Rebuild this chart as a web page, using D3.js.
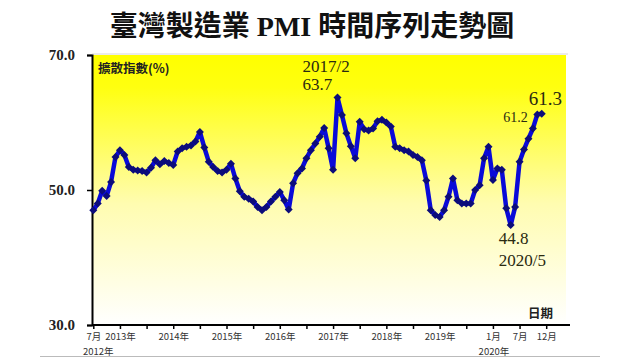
<!DOCTYPE html>
<html>
<head>
<meta charset="utf-8">
<script src="https://cdn.jsdelivr.net/npm/d3@7"></script>
<style>
  html, body { margin: 0; padding: 0; background: #ffffff; }
  svg { display: block; }
</style>
</head>
<body>
<svg id="chart" width="640" height="360"></svg>
<script>
// ---- data ----
const title = "臺灣製造業 PMI 時間序列走勢圖";
const startYear = 2012, startMonth = 7; // first category: 2012/7
const pmiValues = [
  // 2012 Jul-Dec
  47.0, 48.0, 49.9, 49.1, 51.2, 54.9,
  // 2013
  55.9, 55.2, 53.4, 53.0, 52.9, 52.8, 52.6, 53.3, 54.4, 53.8, 54.3, 54.0,
  // 2014
  53.7, 55.7, 56.2, 56.4, 56.6, 57.2, 58.6, 56.3, 54.2, 53.4, 52.8, 52.6,
  // 2015
  53.0, 53.9, 51.7, 49.8, 49.0, 48.7, 48.3, 47.5, 47.0, 47.5, 48.3, 49.0,
  // 2016
  49.7, 48.5, 47.1, 51.0, 52.5, 53.2, 54.7, 55.9, 56.9, 57.9, 59.2, 56.2,
  // 2017
  53.0, 63.7, 61.1, 58.4, 56.5, 54.7, 60.1, 59.0, 58.8, 59.1, 60.2, 60.4,
  // 2018
  60.0, 59.4, 56.4, 56.2, 55.9, 55.7, 55.2, 54.9, 54.4, 51.4, 47.0, 46.3,
  // 2019
  46.0, 47.0, 49.0, 51.7, 48.5, 48.0, 48.0, 48.0, 50.0, 50.7, 54.7, 56.4,
  // 2020
  51.5, 53.2, 53.0, 47.3, 44.8, 47.5, 54.2, 56.0, 57.6, 59.1, 61.2, 61.3
];
const categories = pmiValues.map((_, i) => {
  const m = startMonth - 1 + i;
  return (startYear + Math.floor(m / 12)) + "/" + (m % 12 + 1);
});
const yTicks = [30, 50, 70];
const xTickIdx = [0, 6, 12, 18, 24, 30, 36, 42, 48, 54, 60, 66, 72, 78, 84, 90, 96, 102];
const xTickLabels = {0: "7月", 6: "2013年", 18: "2014年", 30: "2015年", 42: "2016年",
  54: "2017年", 66: "2018年", 78: "2019年", 90: "1月", 96: "7月", 102: "12月"};
const xYearLabels = [{idx: 0, text: "2012年"}, {idx: 90, text: "2020年"}];
const annotations = [
  {cat: "2017/2", lines: ["2017/2", "63.7"]},
  {cat: "2020/5", lines: ["44.8", "2020/5"]},
  {cat: "2020/11", lines: ["61.2"]},
  {cat: "2020/12", lines: ["61.3"]}
];
const yTitle = "擴散指數(%)";
const xTitle = "日期";

// ---- layout ----
const svg = d3.select("#chart");
const plot = {left: 92, right: 566, top: 55, bottom: 325};
const x = d3.scaleLinear().domain([0, 102]).range([93.3, 546.2]);
const y = d3.scaleLinear().domain([30, 70]).range([plot.bottom, plot.top]);

const defs = svg.append("defs");
const grad = defs.append("linearGradient").attr("id", "bg").attr("x1", 0).attr("y1", 0).attr("x2", 0).attr("y2", 1);
grad.append("stop").attr("offset", "0%").attr("stop-color", "#ffff00");
grad.append("stop").attr("offset", "12%").attr("stop-color", "#ffff10");
grad.append("stop").attr("offset", "55%").attr("stop-color", "#fffcb0");
grad.append("stop").attr("offset", "100%").attr("stop-color", "#ffffff");

svg.append("rect")
  .attr("x", plot.left).attr("y", plot.top)
  .attr("width", plot.right - plot.left).attr("height", plot.bottom - plot.top)
  .attr("fill", "url(#bg)");

// faint frame lines
svg.append("line").attr("x1", plot.left).attr("x2", plot.right + 2)
  .attr("y1", plot.top - 1).attr("y2", plot.top - 1)
  .attr("stroke", "#d8d8d8").attr("stroke-width", 1);
svg.append("line").attr("x1", 40).attr("x2", 600)
  .attr("y1", 356.5).attr("y2", 356.5)
  .attr("stroke", "#bbbbbb").attr("stroke-width", 1);

// title
svg.append("text")
  .attr("x", 312).attr("y", 36)
  .attr("text-anchor", "middle")
  .attr("font-family", "'Liberation Serif', 'Noto Sans CJK TC', serif")
  .attr("font-weight", "bold")
  .attr("font-size", 28)
  .attr("fill", "#111")
  .text(title);

// y axis
const yAxis = d3.axisLeft(y).tickValues(yTicks).tickFormat(d3.format(".1f")).tickSize(5).tickPadding(12);
const gy = svg.append("g").attr("transform", `translate(${plot.left},0)`).call(yAxis);
gy.select(".domain").attr("stroke", "#000").attr("stroke-width", 2);
gy.selectAll(".tick line").attr("stroke", "#000").attr("stroke-width", 1.5);
gy.selectAll(".tick text")
  .attr("font-family", "'Liberation Serif', serif")
  .attr("font-weight", "bold").attr("font-size", 15).attr("fill", "#222");

// x axis
const xAxis = d3.axisBottom(x).tickValues(xTickIdx)
  .tickFormat(d => xTickLabels[d] || "").tickSize(4).tickPadding(4).tickSizeOuter(0);
const gx = svg.append("g").attr("transform", `translate(0,${plot.bottom})`).call(xAxis);
gx.select(".domain").attr("d", `M${plot.left},0H${plot.right + 4}`)
  .attr("stroke", "#000").attr("stroke-width", 2);
gx.selectAll(".tick line").attr("stroke", "#000").attr("stroke-width", 1.5);
gx.selectAll(".tick text")
  .attr("font-family", "'Noto Sans CJK TC', sans-serif")
  .attr("font-size", 9.5).attr("fill", "#333");

svg.selectAll(".yearlab").data(xYearLabels).enter().append("text")
  .attr("class", "yearlab")
  .attr("x", d => x(d.idx) + (d.idx === 0 ? 5 : 1)).attr("y", 355)
  .attr("text-anchor", "middle")
  .attr("font-family", "'Noto Sans CJK TC', sans-serif")
  .attr("font-size", 9.5).attr("fill", "#333")
  .text(d => d.text);

// axis titles
svg.append("text").attr("x", 98).attr("y", 73)
  .attr("font-family", "'Noto Sans CJK TC', sans-serif")
  .attr("font-weight", "bold").attr("font-size", 12.5).attr("fill", "#222")
  .text(yTitle);
svg.append("text").attr("x", 528).attr("y", 318)
  .attr("font-family", "'Noto Sans CJK TC', sans-serif")
  .attr("font-weight", "bold").attr("font-size", 12.5).attr("fill", "#222")
  .text(xTitle);

// line
const line = d3.line().x((d, i) => x(i)).y(d => y(d));
svg.append("path").datum(pmiValues)
  .attr("d", line)
  .attr("fill", "none")
  .attr("stroke", "#0a0ad8")
  .attr("stroke-width", 4.5)
  .attr("stroke-linejoin", "round");

// markers
const sym = d3.symbol().type(d3.symbolSquare).size(32);
svg.selectAll(".mk").data(pmiValues).enter().append("path")
  .attr("class", "mk")
  .attr("d", sym)
  .attr("transform", (d, i) => `translate(${x(i)},${y(d)}) rotate(45)`)
  .attr("fill", "#0c0c7a");

// annotations
const annoStyle = {
  "2017/2": {dx: -35, dy: [-26, -8], size: [17, 17], anchor: "start"},
  "2020/5": {dx: -12, dy: [19, 41], size: [17, 17], anchor: "start"},
  "2020/11": {dx: -34, dy: [8], size: [14], anchor: "start"},
  "2020/12": {dx: -13, dy: [-9], size: [19], anchor: "start"}
};
annotations.forEach(a => {
  const i = categories.indexOf(a.cat);
  const st = annoStyle[a.cat];
  a.lines.forEach((t, k) => {
    svg.append("text")
      .attr("x", x(i) + st.dx)
      .attr("y", y(pmiValues[i]) + st.dy[k])
      .attr("text-anchor", st.anchor)
      .attr("font-family", "'Liberation Serif', serif")
      .attr("font-size", st.size[k])
      .attr("fill", "#2a2a10")
      .text(t);
  });
});
</script>
</body>
</html>
